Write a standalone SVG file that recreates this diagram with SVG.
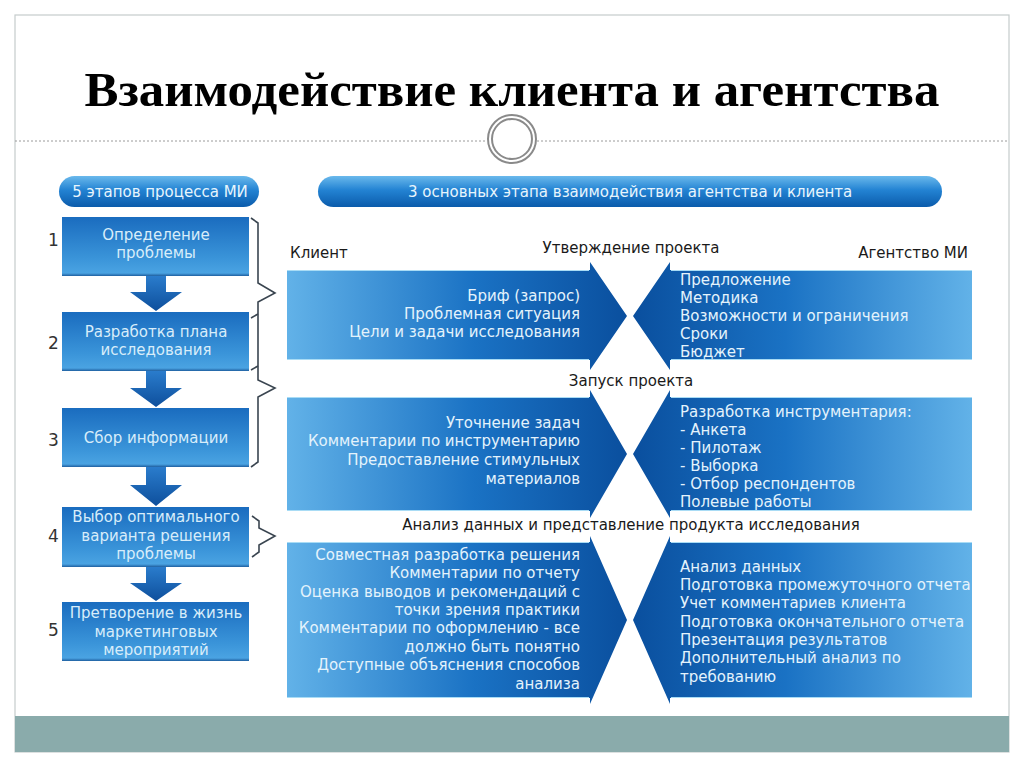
<svg xmlns="http://www.w3.org/2000/svg" width="1024" height="767" viewBox="0 0 1024 767">
<defs>
<linearGradient id="pillGrad" x1="0" y1="0" x2="0" y2="1">
<stop offset="0" stop-color="#6ab9ec"/>
<stop offset="0.45" stop-color="#2383d3"/>
<stop offset="1" stop-color="#0b5bab"/>
</linearGradient>
<linearGradient id="boxGrad" x1="0" y1="0" x2="0" y2="1">
<stop offset="0" stop-color="#1a6cbf"/>
<stop offset="0.7" stop-color="#3a94d9"/>
<stop offset="0.95" stop-color="#4aa3e2"/>
<stop offset="1" stop-color="#1f5fa0"/>
</linearGradient>
<linearGradient id="downGrad" x1="0" y1="0" x2="0" y2="1">
<stop offset="0" stop-color="#2a7ccc"/>
<stop offset="1" stop-color="#0e4f9c"/>
</linearGradient>
<linearGradient id="leftGrad" gradientUnits="userSpaceOnUse" x1="287" y1="0" x2="627" y2="0">
<stop offset="0" stop-color="#62b2e8"/>
<stop offset="0.55" stop-color="#1a72c4"/>
<stop offset="1" stop-color="#0a4f9e"/>
</linearGradient>
<linearGradient id="rightGrad" gradientUnits="userSpaceOnUse" x1="633" y1="0" x2="972" y2="0">
<stop offset="0" stop-color="#0a4f9e"/>
<stop offset="0.45" stop-color="#1a72c4"/>
<stop offset="1" stop-color="#62b2e8"/>
</linearGradient>
</defs>
<style>
.pilltxt{font-family:"DejaVu Sans","Liberation Sans",sans-serif;font-size:15px;fill:#e8f5fd;}
.boxtxt{font-family:"DejaVu Sans","Liberation Sans",sans-serif;font-size:15px;fill:#d8edfa;text-anchor:middle;}
.num{font-family:"DejaVu Sans","Liberation Sans",sans-serif;font-size:17px;fill:#333333;}
.lbl{font-family:"DejaVu Sans","Liberation Sans",sans-serif;font-size:15px;fill:#1a1a1a;}
.atxt{font-family:"DejaVu Sans","Liberation Sans",sans-serif;font-size:15px;fill:#e4f3fc;}
.rt{text-anchor:end;}
.box{fill:url(#boxGrad);}
.down{fill:url(#downGrad);}
.brace{fill:none;stroke:#3a4550;stroke-width:1.6;stroke-linejoin:miter;}
.edge{stroke:#a9dcf5;stroke-width:1.2;fill:none;}
</style>
<rect x="0" y="0" width="1024" height="767" fill="#ffffff"/>
<rect x="15" y="15" width="994" height="737" fill="#ffffff" stroke="#c5cccc" stroke-width="1.2"/>
<rect x="15" y="716" width="994" height="36" fill="#8aabab"/>
<g id="title">
<text x="512" y="106" text-anchor="middle" font-family="'Liberation Serif','Times New Roman',serif" font-weight="bold" font-size="48" fill="#000000" textLength="855" lengthAdjust="spacingAndGlyphs">Взаимодействие клиента и агентства</text>
</g>
<g id="divider">
<line x1="15" y1="141" x2="487" y2="141" stroke="#9a9a9a" stroke-width="1" stroke-dasharray="2,2"/>
<line x1="537" y1="141" x2="1009" y2="141" stroke="#9a9a9a" stroke-width="1" stroke-dasharray="2,2"/>
<circle cx="512" cy="139" r="24" fill="#ffffff" stroke="#8a8a8a" stroke-width="2"/>
<circle cx="512" cy="139" r="20" fill="none" stroke="#8a8a8a" stroke-width="2"/>
</g>
<g id="pill-left">
<rect x="59" y="176" width="200" height="31" rx="15.5" fill="url(#pillGrad)"/>
<text x="160" y="197" class="pilltxt" text-anchor="middle">5 этапов процесса МИ</text>
</g>
<g id="pill-right">
<rect x="318" y="176" width="624" height="31" rx="15.5" fill="url(#pillGrad)"/>
<text x="408" y="197" class="pilltxt">3 основных этапа взаимодействия агентства и клиента</text>
</g>
<g id="step1">
<rect x="62" y="217" width="187" height="59" class="box"/>
<text x="48" y="246" class="num">1</text>
<text x="156" y="240" class="boxtxt">Определение</text>
<text x="156" y="258" class="boxtxt">проблемы</text>
</g>
<g id="step2">
<rect x="62" y="312" width="187" height="59" class="box"/>
<text x="48" y="349" class="num">2</text>
<text x="156" y="337" class="boxtxt">Разработка плана</text>
<text x="156" y="355" class="boxtxt">исследования</text>
</g>
<g id="step3">
<rect x="62" y="408" width="187" height="59" class="box"/>
<text x="48" y="446" class="num">3</text>
<text x="156" y="443" class="boxtxt">Сбор информации</text>
</g>
<g id="step4">
<rect x="62" y="507" width="187" height="60" class="box"/>
<text x="48" y="542" class="num">4</text>
<text x="156" y="522" class="boxtxt">Выбор оптимального</text>
<text x="156" y="541" class="boxtxt">варианта решения</text>
<text x="156" y="559" class="boxtxt">проблемы</text>
</g>
<g id="step5">
<rect x="62" y="602" width="187" height="59" class="box"/>
<text x="48" y="636" class="num">5</text>
<text x="156" y="618" class="boxtxt">Претворение в жизнь</text>
<text x="156" y="637" class="boxtxt">маркетинговых</text>
<text x="156" y="655" class="boxtxt">мероприятий</text>
</g>
<g id="connectors">
<polygon class="down" points="146,276 166,276 166,292 182,292 156,311 130,292 146,292"/>
<polygon class="down" points="146,371 166,371 166,388 182,388 156,407 130,388 146,388"/>
<polygon class="down" points="146,467 166,467 166,485 182,485 156,506 130,485 146,485"/>
<polygon class="down" points="146,567 166,567 166,583 182,583 156,601 130,583 146,583"/>
<path class="brace" d="M251,218 L258,223 L258,283 L275,293 L258,302 L258,380 L275,388 L258,397 L258,462 L251,467"/>
<path class="brace" d="M258,314 L251,318 M258,366 L251,370"/>
<path class="brace" d="M252,516 L259,521 L259,528 L275,536 L259,545 L259,552 L252,557"/>
</g>
<g id="labels">
<text x="290" y="258" class="lbl">Клиент</text>
<text x="631" y="253" class="lbl" text-anchor="middle">Утверждение проекта</text>
<text x="968" y="258" class="lbl" text-anchor="end">Агентство МИ</text>
<text x="631" y="386" class="lbl" text-anchor="middle">Запуск проекта</text>
<text x="631" y="530" class="lbl" text-anchor="middle">Анализ данных и представление продукта исследования</text>
</g>
<g id="client-stage1">
<polygon fill="url(#leftGrad)" points="287,270 590,270 590,262 627,316 590,370 590,360 287,360"/>
<path class="edge" d="M287,270.5 H589 M287,359.5 H589"/>
<text class="atxt rt" x="580" y="301">Бриф (запрос)</text>
<text class="atxt rt" x="580" y="319">Проблемная ситуация</text>
<text class="atxt rt" x="580" y="337">Цели и задачи исследования</text>
</g>
<g id="agency-stage1">
<polygon fill="url(#rightGrad)" points="972,270 670,270 670,262 633,316 670,370 670,360 972,360"/>
<path class="edge" d="M671,270.5 H972 M671,359.5 H972"/>
<text class="atxt" x="680" y="285">Предложение</text>
<text class="atxt" x="680" y="303">Методика</text>
<text class="atxt" x="680" y="321">Возможности и ограничения</text>
<text class="atxt" x="680" y="339">Сроки</text>
<text class="atxt" x="680" y="357">Бюджет</text>
</g>
<g id="client-stage2">
<polygon fill="url(#leftGrad)" points="287,397 590,397 590,390 627,454 590,518 590,511 287,511"/>
<path class="edge" d="M287,397.5 H589 M287,510.5 H589"/>
<text class="atxt rt" x="580" y="428">Уточнение задач</text>
<text class="atxt rt" x="580" y="446">Комментарии по инструментарию</text>
<text class="atxt rt" x="580" y="465">Предоставление стимульных</text>
<text class="atxt rt" x="580" y="484">материалов</text>
</g>
<g id="agency-stage2">
<polygon fill="url(#rightGrad)" points="972,397 670,397 670,390 633,454 670,518 670,511 972,511"/>
<path class="edge" d="M671,397.5 H972 M671,510.5 H972"/>
<text class="atxt" x="680" y="417">Разработка инструментария:</text>
<text class="atxt" x="680" y="435">- Анкета</text>
<text class="atxt" x="680" y="453">- Пилотаж</text>
<text class="atxt" x="680" y="471">- Выборка</text>
<text class="atxt" x="680" y="489">- Отбор респондентов</text>
<text class="atxt" x="680" y="507">Полевые работы</text>
</g>
<g id="client-stage3">
<polygon fill="url(#leftGrad)" points="287,542 590,542 590,536 627,620 590,704 590,698 287,698"/>
<path class="edge" d="M287,542.5 H589 M287,697.5 H589"/>
<text class="atxt rt" x="580" y="560">Совместная разработка решения</text>
<text class="atxt rt" x="580" y="578">Комментарии по отчету</text>
<text class="atxt rt" x="580" y="597">Оценка выводов и рекомендаций с</text>
<text class="atxt rt" x="580" y="615">точки зрения практики</text>
<text class="atxt rt" x="580" y="633">Комментарии по оформлению - все</text>
<text class="atxt rt" x="580" y="652">должно быть понятно</text>
<text class="atxt rt" x="580" y="670">Доступные объяснения способов</text>
<text class="atxt rt" x="580" y="689">анализа</text>
</g>
<g id="agency-stage3">
<polygon fill="url(#rightGrad)" points="972,542 670,542 670,536 633,620 670,704 670,698 972,698"/>
<path class="edge" d="M671,542.5 H972 M671,697.5 H972"/>
<text class="atxt" x="680" y="572">Анализ данных</text>
<text class="atxt" x="680" y="590">Подготовка промежуточного отчета</text>
<text class="atxt" x="680" y="608">Учет комментариев клиента</text>
<text class="atxt" x="680" y="627">Подготовка окончательного отчета</text>
<text class="atxt" x="680" y="645">Презентация результатов</text>
<text class="atxt" x="680" y="663">Дополнительный анализ по</text>
<text class="atxt" x="680" y="682">требованию</text>
</g>
</svg>
